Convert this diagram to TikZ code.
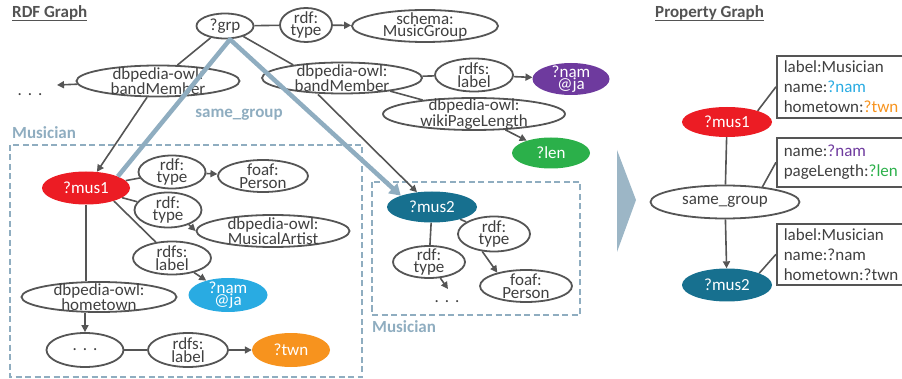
\documentclass[tikz,border=0pt]{standalone}
\usepackage{fontspec}
\setmainfont{Carlito}
\usetikzlibrary{shapes.geometric,arrows.meta}
\definecolor{edgec}{HTML}{555555}
\definecolor{txtc}{HTML}{404040}
\definecolor{sgc}{HTML}{8FADC0}
\definecolor{tric}{HTML}{9CB6C6}
\definecolor{cred}{HTML}{EC1C24}
\definecolor{cpurple}{HTML}{6E3A9E}
\definecolor{cgreen}{HTML}{2BB04A}
\definecolor{cblue}{HTML}{29ABE2}
\definecolor{corange}{HTML}{F7931E}
\definecolor{cteal}{HTML}{17708F}
\pgfdeclarelayer{bg}
\pgfsetlayers{bg,main}
\tikzset{
  ellW/.style={ellipse, draw=edgec, line width=1.8pt, fill=white, inner sep=0pt},
  ellC/.style={ellipse, draw=none, inner sep=0pt},
  elltext/.style={inner sep=0pt, align=center, font=\fontsize{17}{12.5}\selectfont},
  edge/.style={draw=edgec, line width=1.6pt},
  arr/.style={edge, -{Triangle[length=7pt,width=7pt]}},
  sgline/.style={draw=sgc, line width=4.5pt, line join=round, -{Triangle[length=11pt,width=13pt]}},
  dbox/.style={draw=sgc, line width=1.6pt, dash pattern=on 6pt off 3.5pt},
  pbox/.style={draw=edgec, line width=1.6pt, anchor=north west, text width=140pt, align=left,
    inner xsep=7pt, inner ysep=3pt, font=\fontsize{17}{20}\selectfont, text=txtc},
  ttl/.style={anchor=west, inner sep=0pt, font=\bfseries\fontsize{17}{20}\selectfont, text=txtc!90},
  grp label/.style={anchor=west, inner sep=0pt, font=\bfseries\fontsize{17}{20}\selectfont, text=sgc},
  plaintext/.style={inner sep=0pt, font=\fontsize{17}{20}\selectfont, text=txtc},
}
\newcommand\elln[5]{\node[ellW, minimum width=#3, minimum height=#4] (#1) at (#2) {};
  \node[elltext, text=txtc] (#1-t) at (#1.center) {#5};}
\newcommand\ellcol[6]{\node[ellC, fill=#6, minimum width=#3, minimum height=#4] (#1) at (#2) {};
  \node[elltext, text=white] (#1-t) at (#1.center) {#5};}
\newcommand\mydots{.\hspace{6pt}.\hspace{6pt}.}
\begin{document}
\begin{tikzpicture}[x=1pt,y=-1pt]
\useasboundingbox (0,0) rectangle (902,379);

% titles
\node[ttl] (rdft) at (12,13) {RDF Graph};
\draw[draw=txtc!90, line width=1pt] ([yshift=-8pt]rdft.west) -- ([yshift=-8pt]rdft.east);
\node[ttl] (pgt) at (655,13) {Property Graph};
\draw[draw=txtc!90, line width=1pt] ([yshift=-8pt]pgt.west) -- ([yshift=-8pt]pgt.east);

% RDF nodes
\elln{grp}{225,26}{57}{25}{?grp}
\elln{type0}{306,25}{52}{34}{rdf:\\type}
\elln{schema}{425,26}{146}{32}{schema:\\MusicGroup}
\elln{lbm}{158,81}{163}{31}{dbpedia-owl:\\bandMember}
\node[plaintext] (ldots) at (30,95) {\mydots};
\coordinate (ldtip) at (57,85);
\elln{rbm}{342,78}{160}{31}{dbpedia-owl:\\bandMember}
\elln{rlabel}{474,75}{78}{33}{rdfs:\\label}
\ellcol{rnam}{571,79}{77}{32}{?nam\\@ja}{cpurple}
\elln{wiki}{474,114}{182}{32}{dbpedia-owl:\\wikiPageLength}
\ellcol{len}{551,153}{78}{31}{?len}{cgreen}
\node[grp label, anchor=center] (sglabel) at (239,115) {same\_group};
\node[grp label] (mus1lab) at (12,133) {Musician};

\ellcol{mus1}{86,188}{88}{33}{?mus1}{cred}
\elln{type1}{172,172}{67}{33}{rdf:\\type}
\elln{foaf1}{263,176}{90}{32}{foaf:\\Person}
\elln{type2}{168,210}{67}{35}{rdf:\\type}
\elln{artist}{273,231}{153}{32}{dbpedia-owl:\\MusicalArtist}
\elln{mlabel}{172,258}{78}{33}{rdfs:\\label}
\ellcol{bnam}{228,295}{79}{34}{?nam\\@ja}{cblue}
\elln{home}{99,297}{155}{30}{dbpedia-owl:\\hometown}
\elln{dots1}{85,350}{77}{34}{\mydots}
\elln{blabel}{188,350}{80}{34}{rdfs:\\label}
\ellcol{twn}{291,350}{78}{34}{?twn}{corange}

\node[grp label] (mus2lab) at (372,327) {Musician};
\ellcol{mus2}{432,207}{90}{31}{?mus2}{cteal}
\elln{typeR}{494,234}{72}{35}{rdf:\\type}
\elln{typeL}{429,262}{72}{32}{rdf:\\type}
\node[plaintext] (mdots) at (447,302) {\mydots};
\coordinate (mdtip) at (448,289);
\elln{foaf2}{526,286}{92}{32}{foaf:\\Person}

% Property graph
\ellcol{p1}{727,122}{90}{30}{?mus1}{cred}
\elln{sg}{725,202}{149}{33}{same\_group}
\ellcol{p2}{727,285}{90}{33}{?mus2}{cteal}
\node[pbox, minimum height=62pt] (b1) at (776,55) {label:Musician\\name:\textcolor{cblue}{?nam}\\hometown:\textcolor{corange}{?twn}};
\node[pbox, minimum height=49pt] (b2) at (776,137) {name:\textcolor{cpurple}{?nam}\\pageLength:\textcolor{cgreen}{?len}};
\node[pbox, minimum height=61pt] (b3) at (776,223) {label:Musician\\name:?nam\\hometown:?twn};

\begin{pgfonlayer}{bg}
\draw[dbox] (10,145) rectangle (362,377);
\draw[dbox] (372,182) rectangle (580,315);
\fill[tric] (617,150) -- (636,200) -- (617,252) -- cycle;
\draw[edge] (grp) -- (type0);
\draw[arr] (type0) -- (schema);
\draw[edge] (grp) -- (lbm);
\draw[arr] (lbm) -- (ldtip);
\draw[arr] (lbm) -- (mus1);
\draw[edge] (grp) -- (rbm.165);
\draw[edge] (rbm) -- (rlabel);
\draw[arr] (rlabel) -- (rnam);
\draw[edge] (rbm) -- (wiki);
\draw[arr] (wiki) -- (len);
\draw[arr] ([xshift=-24pt]rbm.south) -- (mus2);
\draw[edge] (mus1) -- (type1);
\draw[arr] (type1) -- (foaf1);
\draw[edge] (mus1) -- (type2);
\draw[arr] (type2.-35) -- (artist.west);
\draw[edge] (mus1.-25) -- (mlabel);
\draw[arr] (mlabel) -- (bnam);
\draw[edge] (mus1.south) -- (mus1.south |- home.north);
\draw[arr] (dots1 |- home.south) -- (dots1);
\draw[edge] (dots1) -- (blabel);
\draw[arr] (blabel) -- (twn);
\draw[edge] (mus2) -- (typeR);
\draw[arr] (typeR.-124) -- (foaf2.155);
\draw[edge] (mus2) -- (typeL);
\draw[arr] (typeL) -- (mdtip);
\draw[edge] (p1) -- (sg);
\draw[arr] (sg) -- (p2);
\draw[edge] (p1.20) -- (b1.west);
\draw[edge] (sg.22) -- (b2.west);
\draw[edge] (p2.20) -- (b3.west);
\end{pgfonlayer}

\draw[sgline] (mus1.20) -- ([xshift=5pt]grp.south) -- (mus2.160);
\end{tikzpicture}
\end{document}
